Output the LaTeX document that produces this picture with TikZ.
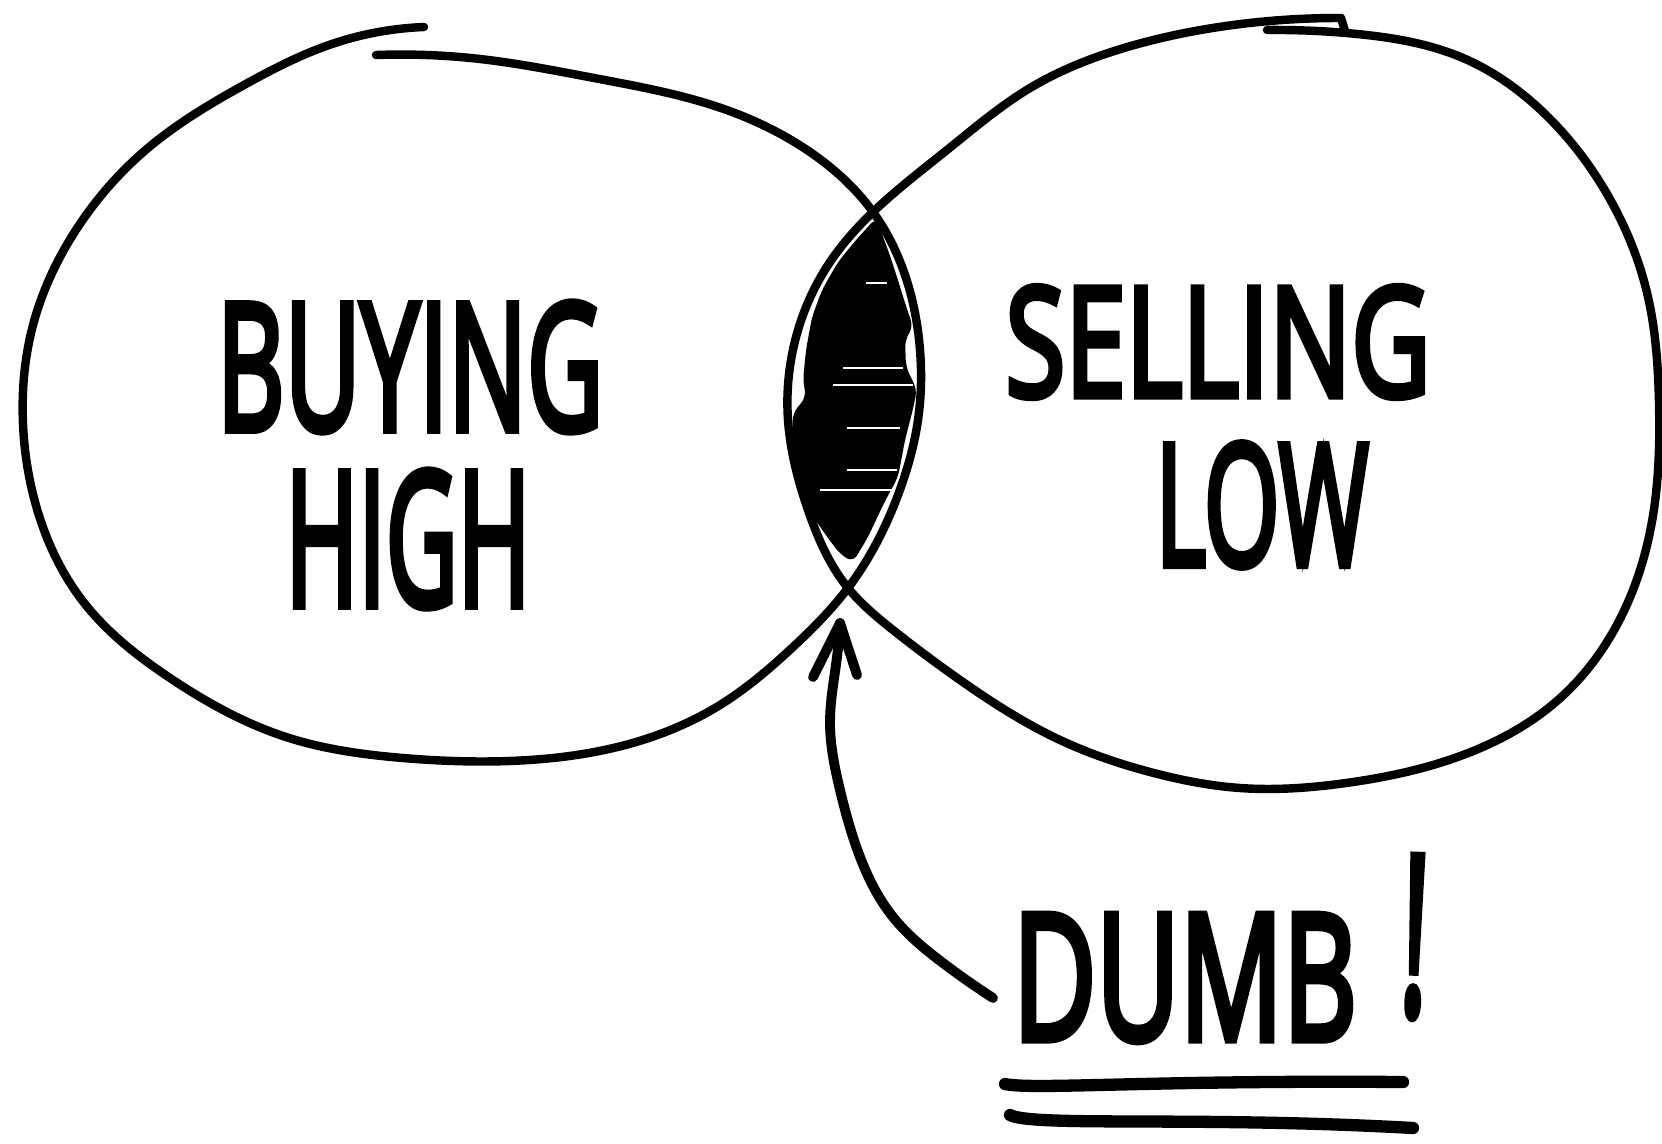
\documentclass[tikz,border=0pt]{standalone}
\usepackage{graphicx}
\usepackage{fontspec}
\usetikzlibrary{hobby}
\newfontfamily\handfont{Open Sans}[FakeBold=4.5]
\begin{document}
\begin{tikzpicture}[x=0.02cm,y=-0.02cm,
  ink/.style={draw=black,line width=4.8pt,line cap=round,line join=round},
  inkthick/.style={draw=black,line width=5.6pt,line cap=round,line join=round},
  underline/.style={draw=black,line width=7pt,line cap=round},
  word/.style={inner sep=0pt,outer sep=0pt,text=black,font=\handfont}]
\useasboundingbox (0,0) rectangle (1662,1143);
\fill[white] (0,0) rectangle (1662,1143);

% scribble fill in the overlap
\fill[black,rounded corners=4pt] (876,218) -- (888,250) -- (897,277) -- (905,303) -- (913,327) -- (905,340) -- (906,367) -- (917,390) -- (912,413) -- (905,440) -- (898,477) -- (884,503) -- (868,537) -- (853,562) -- (840,554) -- (825,534) -- (804,503) -- (796,480) -- (792,440) -- (793,413) -- (806,397) -- (803,380) -- (806,350) -- (812,317) -- (822,290) -- (838,262) -- (856,240) -- cycle;
\draw[white,line width=0.9pt] (866,283) -- (887,283);
\draw[white,line width=0.9pt] (843,368) -- (903,368);
\draw[white,line width=0.9pt] (833,385) -- (913,385);
\draw[white,line width=0.9pt] (847,428) -- (900,428);
\draw[white,line width=0.9pt] (847,470) -- (897,470);
\draw[white,line width=0.9pt] (820,490) -- (893,490);

% left circle
\draw[ink,use Hobby shortcut] (376,55) .. (480,59) .. (594,78) .. (721,108) .. (810,152) .. (873,212) .. (905,275) .. (920,350) .. (918,420) .. (898,495) .. (848,588) .. (793,647) .. (720,705) .. (636,742) .. (509,761) .. (403,758) .. (286,737) .. (170,678) .. (85,604) .. (37,509) .. (23,424) .. (32,329) .. (74,233) .. (148,148) .. (244,85) .. (329,45) .. (424,27);

% right circle
\coordinate (rtop) at (1341,18);
\coordinate (rhook) at (1345,31);
\draw[ink,use Hobby shortcut] (1267,30) .. (1357,34) .. (1463,58) .. (1548,117) .. (1611,201) .. (1648,297) .. (1659,403) .. (1654,509) .. (1622,615) .. (1558,700) .. (1463,755) .. (1346,783) .. (1240,788) .. (1150,772) .. (1060,740) .. (960,680) .. (893,630) .. (848,588) .. (808,510) .. (788,420) .. (798,330) .. (830,262) .. (873,212) .. (947,150) .. (1030,88) .. (1124,48) .. (1219,27) .. (rtop);
\draw[ink] (rtop) -- (rhook);

% labels
\node[word] (buying) at (410,367) {\resizebox{7.72cm}{2.55cm}{BUYING}};
\node[word] (high) at (408,539) {\resizebox{4.9cm}{2.7cm}{HIGH}};
\node[word] (selling) at (1218,342) {\resizebox{8.5cm}{2.2cm}{SELLING}};
\node[word] (low) at (1262,505) {\resizebox{4.26cm}{2.45cm}{LOW}};
\node[word] (dumb) at (1185,978) {\resizebox{6.88cm}{2.5cm}{DUMB}};
\node[word,rotate=-2] (bang) at (1415,937) {\resizebox{0.55cm}{3.15cm}{!}};

% arrow
\coordinate (tip) at (840,623);
\coordinate (tail) at (993,998);
\draw[inkthick,use Hobby shortcut] (tail) .. (943,963) .. (893,917) .. (860,857) .. (840,790) .. (830,723) .. (837,657) .. (tip);
\draw[inkthick] (813,677) -- (tip) -- (857,675);

% underlines
\coordinate (u1a) at (1005,1084);
\coordinate (u1b) at (1403,1082);
\coordinate (u2a) at (1010,1115);
\coordinate (u2b) at (1413,1128);
\draw[underline] (u1a) .. controls (1033,1090) and (1150,1080) .. (u1b);
\draw[underline] (u2a) .. controls (1033,1127) and (1200,1116) .. (u2b);
\end{tikzpicture}
\end{document}
